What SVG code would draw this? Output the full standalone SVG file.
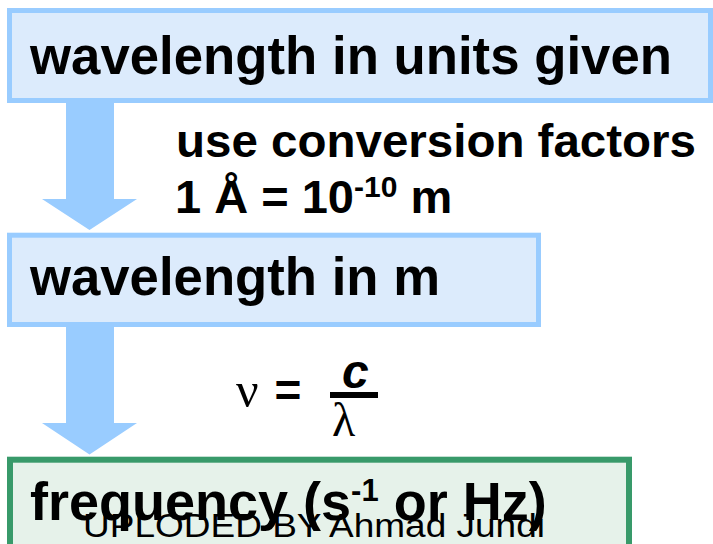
<svg xmlns="http://www.w3.org/2000/svg" width="713" height="544" viewBox="0 0 713 544">
<style>
.bx{fill:#DCEBFC;stroke:#99CCFF;stroke-width:5}
.gx{fill:#E6F2EA;stroke:#389A6A;stroke-width:6}
.arr{fill:#99CCFF}
.t{font-family:"Liberation Sans",Arial,sans-serif;font-weight:bold;fill:#000}
.s{font-family:"Liberation Serif","Times New Roman",serif;fill:#000}
.w{font-family:"Liberation Sans",Arial,sans-serif;fill:#000}
</style>
<rect width="713" height="544" fill="#fff"/>
<g id="connectors">
<polygon class="arr" points="66,101 114,101 114,199 137,199 89.5,230 42,199 66,199"/>
<polygon class="arr" points="66,325 114,325 114,423 137,423 89.5,454.5 42,423 66,423"/>
</g>
<g id="node-units">
<rect class="bx" x="9.5" y="10.5" width="701" height="90"/>
<text class="t" x="30" y="73.5" font-size="54" textLength="642" lengthAdjust="spacingAndGlyphs">wavelength in units given</text>
</g>
<g id="label-conversion">
<text class="t" x="176" y="157" font-size="47" textLength="520" lengthAdjust="spacingAndGlyphs">use conversion factors</text>
<text class="t" font-size="47"><tspan x="175" y="212.5">1 Å = 10</tspan><tspan y="197" font-size="30">-10</tspan><tspan y="212.5"> m</tspan></text>
</g>
<g id="node-meters">
<rect class="bx" x="9.5" y="235.2" width="529" height="89.3"/>
<text class="t" x="30" y="295" font-size="54" textLength="410" lengthAdjust="spacingAndGlyphs">wavelength in m</text>
</g>
<g id="label-formula">
<text class="s" x="236" y="406.5" font-size="50">ν</text>
<text class="t" x="274.5" y="406" font-size="46">=</text>
<text class="t" x="342" y="388" font-size="48" font-style="italic">c</text>
<rect x="330" y="392" width="48" height="6" fill="#000"/>
<text class="s" x="332" y="436" font-size="48">λ</text>
</g>
<g id="node-frequency">
<rect class="gx" x="10" y="459.7" width="619" height="100"/>
<text class="t" font-size="54"><tspan x="30" y="520">frequency (s</tspan><tspan y="501" font-size="31">-1</tspan><tspan y="520"> or Hz)</tspan></text>
</g>
<text class="w" x="83" y="537" font-size="34" textLength="462" lengthAdjust="spacingAndGlyphs">UPLODED BY Ahmad Jundi</text>
</svg>
